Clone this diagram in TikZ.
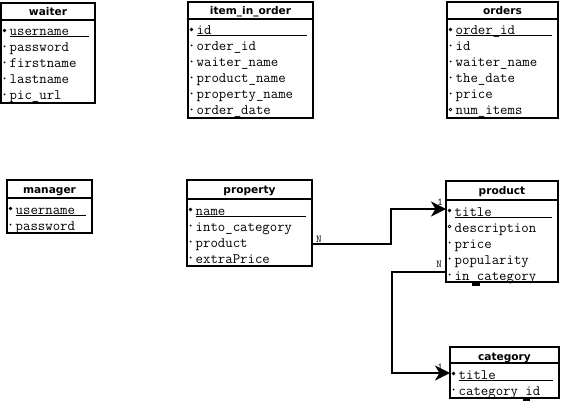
\documentclass[tikz,border=0pt]{standalone}
\usepackage{fontspec}
\usepackage{tikz}
\usetikzlibrary{arrows.meta, calc}
\newfontfamily\titlefont{DejaVu Sans}

\begin{document}
\begin{tikzpicture}[x=1pt, y=-1pt,
    tbl/.style = {draw, line width=2pt, inner sep=0pt, outer sep=0pt, anchor=north west},
    ttl/.style = {font=\titlefont\bfseries\fontsize{10.6}{12}\selectfont, inner sep=0pt, anchor=base},
    attr/.style = {font=\ttfamily\fontsize{14.4}{16}\selectfont, inner sep=0pt, anchor=base west, text height=9pt, text depth=3pt},
    hline/.style = {line width=2pt},
    uline/.style = {line width=1pt},
    rel/.style = {line width=2pt, -{Stealth[length=15pt, width=15pt, inset=4.5pt]}},
    lbl/.style = {font=\ttfamily\fontsize{10.5}{11}\selectfont, inner sep=0pt},
    pics/pkey/.style = {code={\fill (0,-1.9) -- (1.9,0) -- (0,1.9) -- (-1.9,0) -- cycle;}},
    pics/preq/.style = {code={\fill (0,0) circle[radius=1pt];}},
    pics/popt/.style = {code={\draw[line width=0.6pt] (0,0) circle[radius=1.4pt];}}]
    \useasboundingbox (0,0) rectangle (562,401);

    \node[tbl, minimum width=94pt, minimum height=100pt] (waiter) at (1,3) {};
    \node[ttl] (waiter-t) at (48,16) {waiter};
    \draw[hline] (waiter.west |- 0,20) -- (waiter.east |- 0,20);
    \foreach \m/\a [count=\i] in {key/username, req/password, req/firstname, req/lastname, req/pic\_url} {
        \node[attr] (waiter-\i) at (9.5,{20+16*\i}) {\a};
        \pic at (4.5,{14.5+16*\i}) {p\m};
    }
    \draw[uline] (9.5,37) -- (89,37);

    \node[tbl, minimum width=125pt, minimum height=116pt] (item) at (188,2) {};
    \node[ttl] (item-t) at (250.5,15) {item\_in\_order};
    \draw[hline] (item.west |- 0,19) -- (item.east |- 0,19);
    \foreach \m/\a [count=\i] in {key/id, req/order\_id, req/waiter\_name, req/product\_name, req/property\_name, req/order\_date} {
        \node[attr] (item-\i) at (196.5,{19+16*\i}) {\a};
        \pic at (191.5,{13.5+16*\i}) {p\m};
    }
    \draw[uline] (196.5,36) -- (307,36);

    \node[tbl, minimum width=111pt, minimum height=116pt] (orders) at (447,2) {};
    \node[ttl] (orders-t) at (502.5,15) {orders};
    \draw[hline] (orders.west |- 0,19) -- (orders.east |- 0,19);
    \foreach \m/\a [count=\i] in {key/order\_id, req/id, req/waiter\_name, req/the\_date, req/price, opt/num\_items} {
        \node[attr] (orders-\i) at (455.5,{19+16*\i}) {\a};
        \pic at (450.5,{13.5+16*\i}) {p\m};
    }
    \draw[uline] (455.5,36) -- (552,36);

    \node[tbl, minimum width=85pt, minimum height=53pt] (manager) at (7,180) {};
    \node[ttl] (manager-t) at (49.5,193) {manager};
    \draw[hline] (manager.west |- 0,198) -- (manager.east |- 0,198);
    \foreach \m/\a [count=\i] in {key/username, req/password} {
        \node[attr] (manager-\i) at (15.5,{198+16*\i}) {\a};
        \pic at (10.5,{192.5+16*\i}) {p\m};
    }
    \draw[uline] (15.5,215) -- (86,215);

    \node[tbl, minimum width=125pt, minimum height=86pt] (property) at (187,180) {};
    \node[ttl] (property-t) at (249.5,193) {property};
    \draw[hline] (property.west |- 0,199) -- (property.east |- 0,199);
    \foreach \m/\a [count=\i] in {key/name, req/into\_category, req/product, req/extraPrice} {
        \node[attr] (property-\i) at (195.5,{199+16*\i}) {\a};
        \pic at (190.5,{193.5+16*\i}) {p\m};
    }
    \draw[uline] (195.5,216) -- (306,216);

    \node[tbl, minimum width=112pt, minimum height=101pt] (product) at (446,181) {};
    \node[ttl] (product-t) at (502,194) {product};
    \draw[hline] (product.west |- 0,200) -- (product.east |- 0,200);
    \foreach \m/\a [count=\i] in {key/title, opt/description, req/price, req/popularity, req/in\_category} {
        \node[attr] (product-\i) at (454.5,{200+16*\i}) {\a};
        \pic at (449.5,{194.5+16*\i}) {p\m};
    }
    \draw[uline] (454.5,217) -- (552,217);
    \fill (472,283) rectangle (480,285.5);

    \node[tbl, minimum width=109pt, minimum height=51pt] (category) at (450,347) {};
    \node[ttl] (category-t) at (504.5,360) {category};
    \draw[hline] (category.west |- 0,363) -- (category.east |- 0,363);
    \foreach \m/\a [count=\i] in {key/title, req/category\_id} {
        \node[attr] (category-\i) at (458.5,{363+16*\i}) {\a};
        \pic at (453.5,{357.5+16*\i}) {p\m};
    }
    \draw[uline] (458.5,380) -- (553,380);
    \fill (523,398.5) rectangle (530,401);

    \draw[rel] (property.east |- property-3) node[lbl, anchor=south west, xshift=3pt, yshift=1pt] {N}
        -- ++(79,0) |- ($(product.west |- product-1)+(0,-4)$) node[lbl, anchor=south east, xshift=-2pt, yshift=2.5pt] {1};
    \draw[rel] ($(product.west |- product-5)+(0,-5)$) node[lbl, anchor=south east, xshift=-3pt, yshift=3.5pt] {N}
        -- ++(-54,0) |- ($(category.west |- category-1)+(0,-3)$) node[lbl, anchor=south east, xshift=-6pt, yshift=1.5pt] {1};
\end{tikzpicture}
\end{document}
